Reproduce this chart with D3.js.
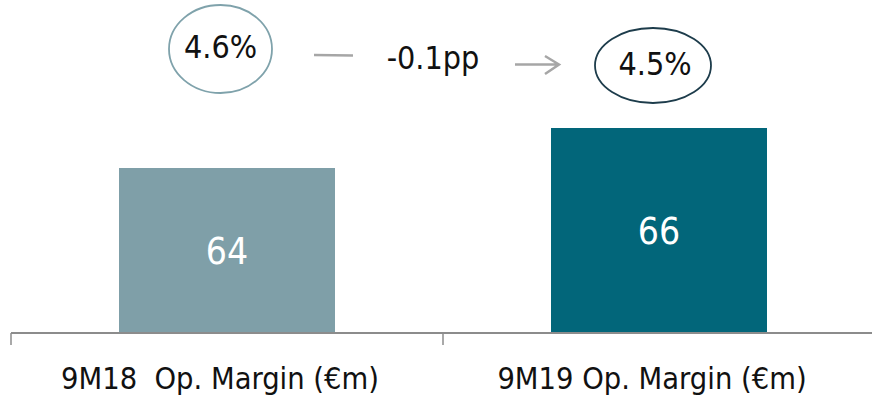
<!DOCTYPE html>
<html>
<head>
<meta charset="utf-8">
<script src="https://cdn.jsdelivr.net/npm/d3@7"></script>
<style>
  html, body { margin: 0; padding: 0; background: #fff; }
  svg { display: block; }
  text { font-family: "Liberation Sans Narrow", "DejaVu Sans Condensed", Roboto, sans-serif; }
</style>
</head>
<body>
<svg id="chart" width="872" height="400"></svg>
<script>
// Operating margin, 9M18 vs 9M19
const categories = ["9M18  Op. Margin (€m)", "9M19 Op. Margin (€m)"];
const values = [64, 66];
const margins = [4.6, 4.5];
const changeLabel = "-0.1pp";
const barColors = ["#7f9fa8", "#02667a"];
const ringColors = ["#7fa2ab", "#1d3c4b"];

const svg = d3.select("#chart");
const W = 872, H = 400;
const baseY = 333;

const x = d3.scaleBand()
  .domain(categories)
  .range([11, 875])
  .paddingInner(0.5)
  .paddingOuter(0.25);

// value axis is truncated, bars start well above zero
const y = d3.scaleLinear().domain([55.75, 66]).range([baseY, 128]);

// bars
svg.selectAll("rect.bar")
  .data(values)
  .join("rect")
  .attr("class", "bar")
  .attr("x", (d, i) => x(categories[i]))
  .attr("width", x.bandwidth())
  .attr("y", d => y(d))
  .attr("height", d => baseY - y(d))
  .attr("fill", (d, i) => barColors[i]);

// value labels inside bars
svg.selectAll("text.val")
  .data(values)
  .join("text")
  .attr("class", "val")
  .attr("x", (d, i) => x(categories[i]) + x.bandwidth() / 2)
  .attr("y", d => (y(d) + baseY) / 2)
  .attr("dy", "0.36em")
  .attr("text-anchor", "middle")
  .attr("fill", "#fff")
  .attr("font-size", 37)
  .text(d => d3.format("d")(d));

// category axis
const axisG = svg.append("g").attr("transform", `translate(0,${baseY})`);
axisG.append("line")
  .attr("x1", 11).attr("x2", W).attr("y1", 0).attr("y2", 0)
  .attr("stroke", "#8c8c8c").attr("stroke-width", 2);
const step = x.step();
const dividers = [11, 11 + step];
axisG.selectAll("line.tick")
  .data(dividers)
  .join("line")
  .attr("class", "tick")
  .attr("x1", d => d).attr("x2", d => d)
  .attr("y1", 0).attr("y2", 12)
  .attr("stroke", "#8c8c8c").attr("stroke-width", 1.5);

svg.selectAll("text.cat")
  .data(categories)
  .join("text")
  .attr("class", "cat")
  .attr("x", d => x(d) + x.bandwidth() / 2 - 7)
  .attr("y", 389)
  .attr("text-anchor", "middle")
  .attr("fill", "#111")
  .attr("font-size", 30.5)
  .style("white-space", "pre")
  .text(d => d);

// margin rings above the bars
const rings = [
  { cx: 220.5, cy: 49, rx: 51.5, ry: 44 },
  { cx: 653, cy: 65.5, rx: 58, ry: 37.5 }
];
svg.selectAll("ellipse.ring")
  .data(rings)
  .join("ellipse")
  .attr("class", "ring")
  .attr("cx", d => d.cx).attr("cy", d => d.cy)
  .attr("rx", d => d.rx).attr("ry", d => d.ry)
  .attr("fill", "none")
  .attr("stroke", (d, i) => ringColors[i])
  .attr("stroke-width", 1.8);

svg.selectAll("text.pct")
  .data(margins)
  .join("text")
  .attr("class", "pct")
  .attr("x", (d, i) => rings[i].cx + (i ? 2 : 0))
  .attr("y", (d, i) => rings[i].cy - 2)
  .attr("dy", "0.35em")
  .attr("text-anchor", "middle")
  .attr("fill", "#111")
  .attr("font-size", 32)
  .text(d => d3.format(".1f")(d) + "%");

// change annotation: dash, label, arrow
svg.append("line")
  .attr("x1", 314).attr("x2", 353).attr("y1", 55).attr("y2", 55.5)
  .attr("stroke", "#a6a6a6").attr("stroke-width", 2.5);
svg.append("text")
  .attr("x", 433).attr("y", 69)
  .attr("text-anchor", "middle")
  .attr("fill", "#111")
  .attr("font-size", 32)
  .text(changeLabel);
svg.append("path")
  .attr("d", "M515,64.5 L558,64.5 M545,56 L559,64.5 L545,74")
  .attr("fill", "none")
  .attr("stroke", "#a6a6a6").attr("stroke-width", 2.5)
  .attr("stroke-linejoin", "miter");
</script>
</body>
</html>
